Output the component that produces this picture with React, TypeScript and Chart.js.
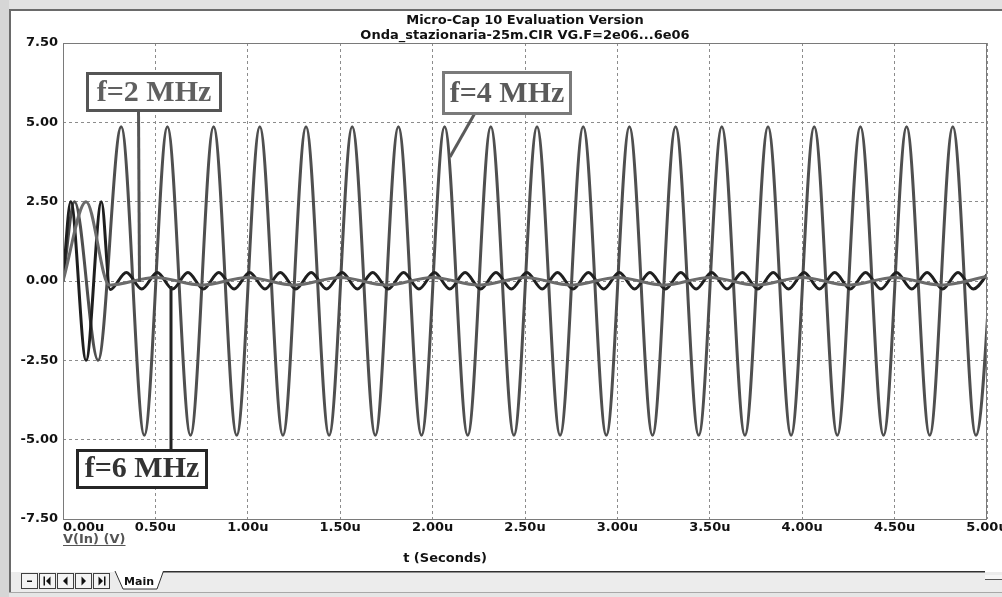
import React, { useEffect, useRef } from "react";
import { Chart, registerables } from "chart.js";

Chart.register(...registerables);

// ---- data (t in microseconds, V in volts) ----
// f = 4 MHz : start-up, then peaks / troughs of the standing wave
const f4T = [0, 0.0625, 0.19, 0.315, 0.44, 0.565, 0.69, 0.815, 0.94, 1.065, 1.19, 1.315, 1.44, 1.565, 1.69, 1.815, 1.94, 2.065, 2.19, 2.315, 2.44, 2.565, 2.69, 2.815, 2.94, 3.065, 3.19, 3.315, 3.44, 3.565, 3.69, 3.815, 3.94, 4.065, 4.19, 4.315, 4.44, 4.565, 4.69, 4.815, 4.94, 5.065];
const f4V = [0, 2.5, -2.5, 4.86, -4.86, 4.86, -4.86, 4.86, -4.86, 4.86, -4.86, 4.86, -4.86, 4.86, -4.86, 4.86, -4.86, 4.86, -4.86, 4.86, -4.86, 4.86, -4.86, 4.86, -4.86, 4.86, -4.86, 4.86, -4.86, 4.86, -4.86, 4.86, -4.86, 4.86, -4.86, 4.86, -4.86, 4.86, -4.86, 4.86, -4.86, 4.86];

// f = 6 MHz
const f6T = [0, 0.042, 0.125, 0.208, 0.255, 0.343, 0.426, 0.51, 0.593, 0.676, 0.76, 0.843, 0.926, 1.01, 1.093, 1.176, 1.26, 1.343, 1.426, 1.51, 1.593, 1.676, 1.76, 1.843, 1.926, 2.01, 2.093, 2.176, 2.26, 2.343, 2.426, 2.51, 2.593, 2.676, 2.76, 2.843, 2.926, 3.01, 3.093, 3.176, 3.26, 3.343, 3.426, 3.51, 3.593, 3.676, 3.76, 3.843, 3.926, 4.01, 4.093, 4.176, 4.26, 4.343, 4.426, 4.51, 4.593, 4.676, 4.76, 4.843, 4.926, 5.01];
const f6V = [0, 2.5, -2.5, 2.5, -0.27, 0.27, -0.25, 0.27, -0.25, 0.27, -0.25, 0.27, -0.25, 0.27, -0.25, 0.27, -0.25, 0.27, -0.25, 0.27, -0.25, 0.27, -0.25, 0.27, -0.25, 0.27, -0.25, 0.27, -0.25, 0.27, -0.25, 0.27, -0.25, 0.27, -0.25, 0.27, -0.25, 0.27, -0.25, 0.27, -0.25, 0.27, -0.25, 0.27, -0.25, 0.27, -0.25, 0.27, -0.25, 0.27, -0.25, 0.27, -0.25, 0.27, -0.25, 0.27, -0.25, 0.27, -0.25, 0.27, -0.25, 0.27];

// f = 2 MHz
const f2T = [0, 0.125, 0.25, 0.5, 0.75, 1.0, 1.25, 1.5, 1.75, 2.0, 2.25, 2.5, 2.75, 3.0, 3.25, 3.5, 3.75, 4.0, 4.25, 4.5, 4.75, 5.0];
const f2V = [0, 2.5, -0.13, 0.11, -0.13, 0.11, -0.13, 0.11, -0.13, 0.11, -0.13, 0.11, -0.13, 0.11, -0.13, 0.11, -0.13, 0.11, -0.13, 0.11, -0.13, 0.14];

const titleLines = ["Micro-Cap 10 Evaluation Version", "Onda_stazionaria-25m.CIR VG.F=2e06...6e06"];
const seriesLabels = ["f=2 MHz", "f=4 MHz", "f=6 MHz"];
const xUnit = "u";
const yAxisName = "V(In) (V)";
const xAxisName = "t (Seconds)";
const tabName = "Main";

const FONT = "DejaVu Sans";
const SERIF = "Liberation Serif";

const pts = (t: number[], v: number[]) => t.map((x, i) => ({ x, y: v[i] }));

function drawText(ctx: CanvasRenderingContext2D, s: string, x: number, y: number, font: string, color: string, align: CanvasTextAlign = "left") {
  ctx.save();
  ctx.font = font;
  ctx.fillStyle = color;
  ctx.textAlign = align;
  ctx.textBaseline = "alphabetic";
  ctx.fillText(s, x, y);
  ctx.restore();
}

function labelBox(ctx: CanvasRenderingContext2D, s: string, x0: number, y0: number, x1: number, y1: number, border: string, color: string, base: number) {
  ctx.save();
  ctx.fillStyle = "#ffffff";
  ctx.fillRect(x0, y0, x1 - x0, y1 - y0);
  ctx.lineWidth = 3;
  ctx.strokeStyle = border;
  ctx.strokeRect(x0 + 1.5, y0 + 1.5, x1 - x0 - 3, y1 - y0 - 3);
  ctx.restore();
  drawText(ctx, s, (x0 + x1) / 2, base, `bold 30px "${SERIF}"`, color, "center");
}

function line(ctx: CanvasRenderingContext2D, x0: number, y0: number, x1: number, y1: number, color: string, w: number) {
  ctx.save();
  ctx.strokeStyle = color;
  ctx.lineWidth = w;
  ctx.beginPath();
  ctx.moveTo(x0, y0);
  ctx.lineTo(x1, y1);
  ctx.stroke();
  ctx.restore();
}

const decor = {
  id: "decor",
  beforeDraw(chart: any) {
    const ctx: CanvasRenderingContext2D = chart.ctx;
    const W = chart.width, H = chart.height;
    ctx.save();
    ctx.fillStyle = "#ffffff";
    ctx.fillRect(0, 0, W, H);
    // window frame
    ctx.fillStyle = "#e2e2e2";
    ctx.fillRect(0, 0, W, 9);
    ctx.fillStyle = "#d6d6d6";
    ctx.fillRect(0, 0, 9, H);
    ctx.fillStyle = "#6a6a6a";
    ctx.fillRect(9, 9, W - 9, 2);
    ctx.fillRect(9, 9, 2, 585);
    // tab bar
    ctx.fillStyle = "#ececec";
    ctx.fillRect(11, 572, W - 11, 20);
    ctx.fillStyle = "#a8a8a8";
    ctx.fillRect(9, 592, W - 9, 1);
    ctx.fillStyle = "#e6e6e6";
    ctx.fillRect(9, 593, W - 9, H - 593);
    ctx.restore();

    // x tick label alignment: first label left, others centred
    const sc = chart.scales.x;
    if (sc && !sc._labelItems && sc._computeLabelItems) sc._labelItems = sc._computeLabelItems(chart.chartArea);
    if (sc && sc._labelItems && sc._labelItems.length) {
      const last = sc._labelItems[sc._labelItems.length - 1];
      if (last && last.options) last.options.textAlign = "center";
    }
  },
  afterDraw(chart: any) {
    const ctx: CanvasRenderingContext2D = chart.ctx;
    const a = chart.chartArea;
    // plot frame
    ctx.save();
    ctx.strokeStyle = "#7a7a7a";
    ctx.lineWidth = 1;
    ctx.strokeRect(Math.round(a.left) + 0.5, Math.round(a.top) + 0.5, Math.round(a.right - a.left) - 1, Math.round(a.bottom - a.top));
    ctx.restore();

    // annotation leaders
    line(ctx, 138.5, 110, 139.5, 282, "#555555", 3);
    line(ctx, 475, 113, 450, 157, "#5a5a5a", 3);
    line(ctx, 171, 451, 171, 286, "#222222", 3);
    // annotation boxes
    labelBox(ctx, seriesLabels[0], 86, 72, 222, 112, "#555555", "#606060", 101);
    labelBox(ctx, seriesLabels[1], 442, 71, 572, 115, "#7a7a7a", "#5a5a5a", 102);
    labelBox(ctx, seriesLabels[2], 76, 449, 208, 489, "#262626", "#333333", 477);

    // axis names
    drawText(ctx, yAxisName, 63, 543, `bold 13px "${FONT}"`, "#555555");
    ctx.save();
    ctx.font = `bold 13px "${FONT}"`;
    const yw = ctx.measureText(yAxisName).width;
    ctx.restore();
    line(ctx, 63, 545.5, 63 + yw, 545.5, "#555555", 1);
    drawText(ctx, xAxisName, 445, 562, `bold 13px "${FONT}"`, "#111111", "center");

    // tab bar controls
    ctx.save();
    ctx.fillStyle = "#303030";
    ctx.fillRect(163, 571, 822, 1.5);
    ctx.fillStyle = "#f6f6f6";
    ctx.fillRect(985, 575, 17, 5);
    ctx.fillStyle = "#555";
    ctx.fillRect(985, 579, 17, 1);
    const bx = [21, 39, 57, 75, 93];
    bx.forEach((x, i) => {
      ctx.fillStyle = "#f4f4f4";
      ctx.fillRect(x, 573, 16, 15);
      ctx.strokeStyle = "#404040";
      ctx.lineWidth = 1;
      ctx.strokeRect(x + 0.5, 573.5, 16, 15);
      ctx.fillStyle = "#111";
      const cx = x + 8.5, cy = 581;
      ctx.beginPath();
      if (i === 0) {
        ctx.rect(cx - 2.5, cy - 0.5, 5, 1.5);
      } else if (i === 1 || i === 2) {
        ctx.moveTo(cx - 2.5 + (i === 1 ? 1 : 0), cy);
        ctx.lineTo(cx + 2 + (i === 1 ? 1 : 0), cy - 4.5);
        ctx.lineTo(cx + 2 + (i === 1 ? 1 : 0), cy + 4.5);
        ctx.closePath();
        if (i === 1) ctx.rect(cx - 4, cy - 4.5, 1.5, 9);
      } else {
        ctx.moveTo(cx + 2.5 - (i === 4 ? 1 : 0), cy);
        ctx.lineTo(cx - 2 - (i === 4 ? 1 : 0), cy - 4.5);
        ctx.lineTo(cx - 2 - (i === 4 ? 1 : 0), cy + 4.5);
        ctx.closePath();
        if (i === 4) ctx.rect(cx + 2.5, cy - 4.5, 1.5, 9);
      }
      ctx.fill();
    });
    // Main tab
    ctx.fillStyle = "#ffffff";
    ctx.beginPath();
    ctx.moveTo(115, 571);
    ctx.lineTo(123, 589);
    ctx.lineTo(157, 589);
    ctx.lineTo(163.5, 571);
    ctx.closePath();
    ctx.fill();
    ctx.strokeStyle = "#303030";
    ctx.lineWidth = 1;
    ctx.beginPath();
    ctx.moveTo(115, 571);
    ctx.lineTo(123, 589);
    ctx.lineTo(157, 589);
    ctx.lineTo(163.5, 571);
    ctx.stroke();
    ctx.restore();
    drawText(ctx, tabName, 139, 585, `bold 11px "${FONT}"`, "#111111", "center");
  },
};

export default function App() {
  const ref = useRef<HTMLCanvasElement>(null);
  useEffect(() => {
    document.body.style.margin = "0";
    const tickFont = { family: FONT, size: 13, weight: "bold" as const };
    const chart = new Chart(ref.current as HTMLCanvasElement, {
      type: "line",
      data: {
        datasets: [
          { label: seriesLabels[0], data: pts(f2T, f2V), borderColor: "#6b6b6b", borderWidth: 3, order: 0 },
          { label: seriesLabels[2], data: pts(f6T, f6V), borderColor: "#1f1f1f", borderWidth: 3, order: 1 },
          { label: seriesLabels[1], data: pts(f4T, f4V), borderColor: "#4f4f4f", borderWidth: 3, order: 2 },
        ] as any,
      },
      options: {
        responsive: false,
        animation: false,
        devicePixelRatio: 1,
        datasets: { line: { clip: 0 as any } },
        elements: {
          point: { radius: 0, hoverRadius: 0 },
          line: { cubicInterpolationMode: "monotone", borderJoinStyle: "round", fill: false },
        },
        layout: { padding: { left: 0, right: 15, top: 0, bottom: 0 } },
        plugins: {
          legend: { display: false },
          tooltip: { enabled: false },
          title: {
            display: true,
            text: titleLines,
            fullSize: false,
            color: "#111111",
            font: { family: FONT, size: 13, weight: "bold", lineHeight: 15 / 13 },
            padding: { top: 13, bottom: 0 },
          },
        },
        scales: {
          x: {
            type: "linear",
            min: 0,
            max: 5,
            afterFit: (s: any) => { s.height = 78; },
            ticks: {
              stepSize: 0.5,
              align: "inner",
              padding: 1,
              maxRotation: 0,
              autoSkip: false,
              color: "#111111",
              font: tickFont,
              callback: (v: any) => Number(v).toFixed(2) + xUnit,
            },
            grid: { color: "#8c8c8c", lineWidth: 1, drawTicks: false },
            border: { display: false, dash: [3, 3] },
          },
          y: {
            type: "linear",
            min: -7.5,
            max: 7.5,
            afterFit: (s: any) => { s.width = 63; },
            ticks: {
              stepSize: 2.5,
              padding: 5,
              color: "#111111",
              font: tickFont,
              callback: (v: any) => Number(v).toFixed(2),
            },
            grid: { color: "#8c8c8c", lineWidth: 1, drawTicks: false },
            border: { display: false, dash: [3, 3] },
          },
        },
      },
      plugins: [decor],
    });
    return () => chart.destroy();
  }, []);
  return (
    <div style={{ position: "fixed", left: 0, top: 0, width: 1002, height: 597, background: "#fff" }}>
      <canvas ref={ref} width={1002} height={597} style={{ width: 1002, height: 597, display: "block" }} />
    </div>
  );
}
